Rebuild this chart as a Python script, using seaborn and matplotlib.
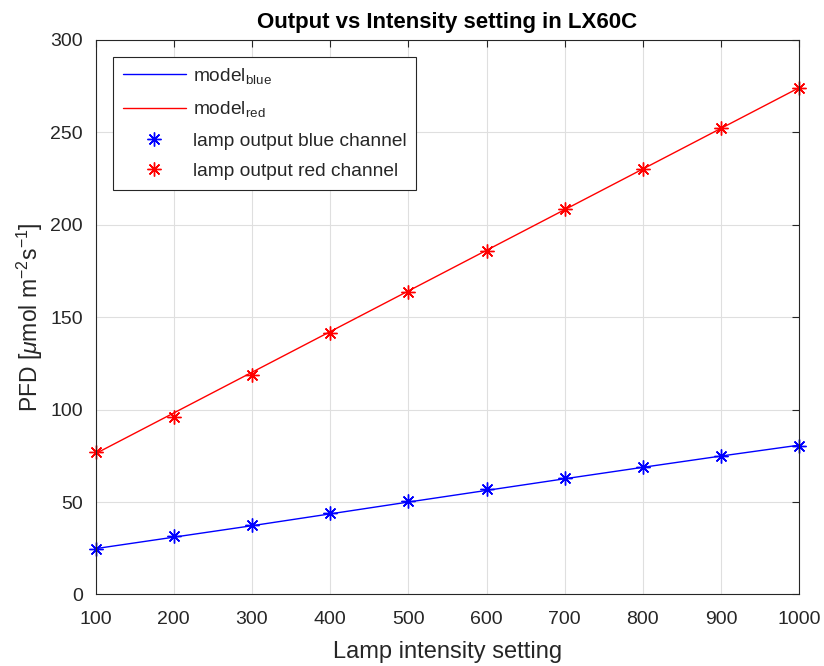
import matplotlib
matplotlib.use("Agg")
import matplotlib.pyplot as plt
import seaborn as sns
import pandas as pd
from matplotlib.lines import Line2D

# Lamp intensity settings and measured photon flux density per channel
intensity = [100, 200, 300, 400, 500, 600, 700, 800, 900, 1000]
blue_measured = [24.6, 31.4, 37.8, 44.1, 50.5, 56.8, 63.0, 69.0, 74.8, 80.4]
red_measured = [77.2, 96.2, 119.0, 141.2, 163.8, 185.9, 208.6, 230.2, 252.3, 274.0]

# Fitted model values at the same settings
blue_model = [24.8, 31.0, 37.2, 43.6, 50.0, 56.3, 62.6, 68.8, 74.9, 80.8]
red_model = [76.2, 98.2, 120.2, 142.2, 164.2, 186.2, 208.2, 230.2, 252.2, 274.2]

x_ticks = [100, 200, 300, 400, 500, 600, 700, 800, 900, 1000]
y_ticks = [0, 50, 100, 150, 200, 250, 300]

df = pd.DataFrame({
    "intensity": intensity,
    "blue_measured": blue_measured,
    "red_measured": red_measured,
    "blue_model": blue_model,
    "red_model": red_model,
})

sns.set_theme(style="whitegrid")
plt.rcParams["font.family"] = ["Liberation Sans", "DejaVu Sans"]
plt.rcParams["mathtext.fontset"] = "custom"
plt.rcParams["mathtext.rm"] = "Liberation Sans"
plt.rcParams["mathtext.it"] = "Liberation Sans:italic"
plt.rcParams["mathtext.bf"] = "Liberation Sans:bold"
plt.rcParams["axes.unicode_minus"] = False

dark = "#262626"
BLUE = "#0000ff"
RED = "#ff0000"
fig = plt.figure(figsize=(8.24, 6.66), dpi=100)
ax = fig.add_axes([0.116, 0.1074, 0.854, 0.8326])
ax.set_facecolor("white")

star = (8, 2, 0)
mk = dict(linestyle="", marker=star, markersize=10, markeredgewidth=1.0, clip_on=False)
sns.lineplot(data=df, x="intensity", y="blue_model", ax=ax, color=BLUE, linewidth=1.0)
sns.lineplot(data=df, x="intensity", y="red_model", ax=ax, color=RED, linewidth=1.0)
sns.lineplot(data=df, x="intensity", y="blue_measured", ax=ax, color=BLUE,
             markeredgecolor=BLUE, markerfacecolor=BLUE, **mk)
sns.lineplot(data=df, x="intensity", y="red_measured", ax=ax, color=RED,
             markeredgecolor=RED, markerfacecolor=RED, **mk)

ax.set_xlim(100, 1000)
ax.set_ylim(0, 300)
ax.set_xticks(x_ticks)
ax.set_yticks(y_ticks)
ax.grid(True, color="#dfdfdf", linewidth=0.8)
ax.tick_params(axis="both", which="both", direction="in", length=5, width=0.8,
               colors=dark, labelsize=14, top=True, right=True,
               labeltop=False, labelright=False)
ax.tick_params(axis="x", pad=12)
ax.tick_params(axis="y", pad=9)
for s in ax.spines.values():
    s.set_visible(True)
    s.set_color(dark)
    s.set_linewidth(0.8)

ax.set_title("Output vs Intensity setting in LX60C", fontsize=16, fontweight="bold",
             color="black", pad=8.5)
ax.set_xlabel("Lamp intensity setting", fontsize=17, color=dark, labelpad=9)
ax.set_ylabel(r"PFD [$\mathit{\mu}$mol m$^{-2}$s$^{-1}$]", fontsize=16.5, color=dark, labelpad=4)

handles = [
    Line2D([], [], color=BLUE, linewidth=1.0),
    Line2D([], [], color=RED, linewidth=1.0),
    Line2D([], [], color=BLUE, linestyle="", marker=star, markersize=10, markeredgewidth=1.0),
    Line2D([], [], color=RED, linestyle="", marker=star, markersize=10, markeredgewidth=1.0),
]
labels = [r"model$_{\mathrm{blue}}$", r"model$_{\mathrm{red}}$",
          "lamp output blue channel", "lamp output red channel"]
leg = ax.legend(handles, labels, loc="upper left", bbox_to_anchor=(0.025, 0.97),
                fontsize=13.8, handlelength=3.3, handletextpad=0.35, labelspacing=0.68,
                frameon=True, fancybox=False, borderpad=0.5, borderaxespad=0.0)
leg.get_frame().set_edgecolor(dark)
leg.get_frame().set_linewidth(0.8)
leg.get_frame().set_alpha(1.0)

fig.savefig("out.png", dpi=100, facecolor="white")
